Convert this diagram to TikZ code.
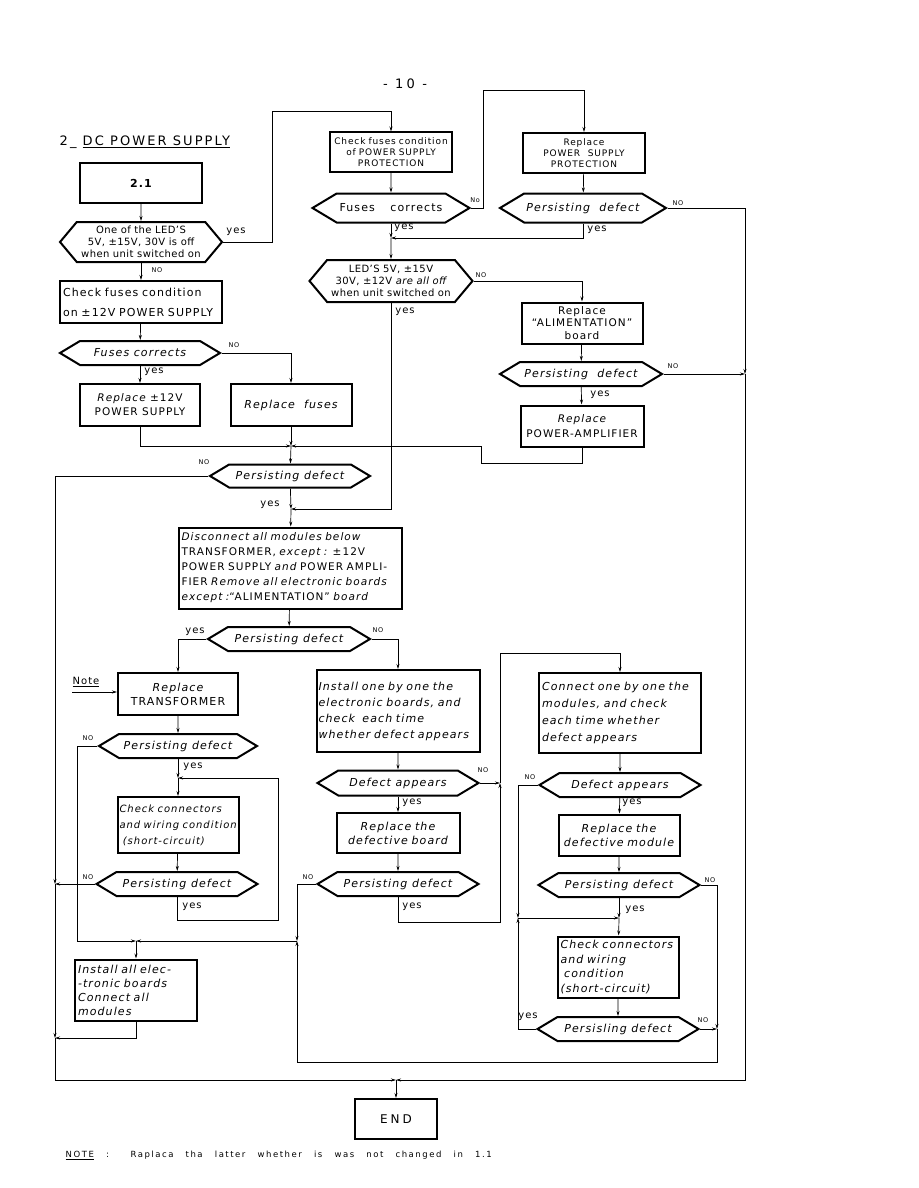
\documentclass[tikz,border=0pt]{standalone}
\usepackage{fontspec}
\setmainfont{DejaVu Sans}[LetterSpace=10]
\usetikzlibrary{shapes.symbols,arrows.meta}

\begin{document}
\begin{tikzpicture}[x=1pt,y=-1pt,>={Stealth[length=5pt,width=3pt]},line width=0.7pt,
  box/.style={draw, line width=2pt, align=center, inner sep=2pt, font=\fontsize{11}{14}\selectfont},
  hexa/.style={draw, line width=2pt, signal, signal to=west and east, signal pointer angle=#1, align=center, inner sep=1pt, font=\fontsize{11}{13}\selectfont},
  hexa/.default=62,
  lbl/.style={inner sep=0pt, font=\fontsize{10}{11}\selectfont},
  nolbl/.style={inner sep=0pt, font=\fontsize{6.5}{7}\selectfont}]
\useasboundingbox (0,0) rectangle (918,1188);

\node[font=\fontsize{13}{14}\selectfont\addfontfeature{LetterSpace=25}] (pagenum) at (405,84) {- 10 -};
\node[anchor=west, font=\fontsize{13}{14}\selectfont\addfontfeature{LetterSpace=16}] (title) at (56,142) {2\_ \underline{DC POWER SUPPLY}};

\node[box, minimum width=122, minimum height=40] (n21) at (141,183) {\bfseries 2.1};
\node[hexa=100, minimum width=162, minimum height=40, inner sep=0pt, font=\fontsize{10}{12}\selectfont\addfontfeature{LetterSpace=4}] (qLeds) at (141,242) {One of the LED'S\\5V, ±15V, 30V is off\\when unit switched on};
\node[box, minimum width=162, minimum height=42, align=left, text width=156pt, font=\fontsize{11}{20}\selectfont] (chkLow) at (141,302) {Check fuses condition\\on ±12V POWER SUPPLY};
\node[hexa, minimum width=160, minimum height=24, font=\fontsize{11}{13}\selectfont\itshape] (qFusesLow) at (140,353) {Fuses corrects};
\node[box, minimum width=120, minimum height=42, font=\fontsize{10.5}{14}\selectfont] (repLow) at (140,405) {{\itshape Replace} ±12V\\POWER SUPPLY};
\node[box, minimum width=121, minimum height=42, font=\fontsize{11}{13}\selectfont\itshape] (repFuses) at (291,405) {Replace \ fuses};
\node[hexa, minimum width=160, minimum height=23] (qPersA) at (290,476) {\itshape Persisting defect};
\node[box, minimum width=223, minimum height=81, align=left, text width=217pt, font=\fontsize{10.5}{15}\selectfont] (disc) at (290,568) {{\itshape Disconnect all modules below}\\TRANSFORMER, {\itshape except :} ±12V\\POWER SUPPLY {\itshape and} POWER AMPLI-\\FIER {\itshape Remove all electronic boards}\\{\itshape except :}``ALIMENTATION'' {\itshape board}};
\node[hexa, minimum width=162, minimum height=24] (qPersB) at (289,639) {\itshape Persisting defect};

\node[box, minimum width=120, minimum height=42] (repTrafo) at (178,694) {{\itshape Replace}\\TRANSFORMER};
\node[hexa, minimum width=158, minimum height=24] (qPersC) at (178,746) {\itshape Persisting defect};
\node[box, minimum width=121, minimum height=56, align=left, text width=117pt, font=\fontsize{10}{16}\selectfont\itshape] (chkWireA) at (178,825) {Check connectors\\\mbox{and wiring condition}\\ \ (short-circuit)};
\node[hexa, minimum width=161, minimum height=24] (qPersD) at (177,884) {\itshape Persisting defect};
\node[box, minimum width=122, minimum height=61, align=left, text width=116pt, font=\fontsize{11}{14}\selectfont\itshape] (instAll) at (136,990) {Install all elec-\\-tronic boards\\Connect all\\modules};
\node[lbl] (noteLbl) at (86,682) {\underline{Note}};
\coordinate (noteA) at (72,692);

\node[box, minimum width=122, minimum height=39, text width=118pt, font=\fontsize{9}{11}\selectfont] (chkProt) at (391,152) {Check fuses condition\\of POWER SUPPLY\\PROTECTION};
\node[hexa, minimum width=157, minimum height=29] (qFusesProt) at (391,208) {Fuses \quad corrects};
\node[box, minimum width=122, minimum height=40, font=\fontsize{9}{11}\selectfont] (repProt) at (584,153) {Replace\\POWER \ SUPPLY\\PROTECTION};
\node[hexa, minimum width=166, minimum height=29] (qPersE) at (583,208) {\itshape Persisting \ defect};
\node[hexa=100, minimum width=163, minimum height=42, inner sep=0pt, font=\fontsize{10}{12}\selectfont\addfontfeature{LetterSpace=4}] (qLedsAll) at (391,281) {LED'S 5V, ±15V\\30V, ±12V {\itshape are all off}\\when unit switched on};
\node[box, minimum width=121, minimum height=41, text width=117pt, font=\fontsize{10.5}{12.5}\selectfont] (repAlim) at (582,323) {Replace\\``ALIMENTATION''\\board};
\node[hexa, minimum width=162, minimum height=24] (qPersF) at (581,374) {\itshape Persisting \ defect};
\node[box, minimum width=123, minimum height=41, text width=119pt, font=\fontsize{10.5}{15}\selectfont] (repAmp) at (582,426) {{\itshape Replace}\\POWER-AMPLIFIER};

\node[box, minimum width=163, minimum height=82, align=left, text width=159pt, font=\fontsize{11}{16}\selectfont\itshape] (instBoards) at (398,711) {Install one by one the\\electronic boards, and\\check \ each time\\whether defect appears};
\node[hexa, minimum width=161, minimum height=25] (qAppB) at (398,783) {\itshape Defect appears};
\node[box, minimum width=123, minimum height=40, text width=119pt, font=\fontsize{11}{14}\selectfont\itshape] (repBoard) at (398,833) {Replace the\\defective board};
\node[hexa, minimum width=161, minimum height=24] (qPersG) at (398,884) {\itshape Persisting defect};

\node[box, minimum width=162, minimum height=80, align=left, text width=156pt, font=\fontsize{11}{17}\selectfont\itshape] (connMod) at (620,713) {Connect one by one the\\modules, and check\\each time whether\\defect appears};
\node[hexa, minimum width=161, minimum height=24] (qAppM) at (620,785) {\itshape Defect appears};
\node[box, minimum width=121, minimum height=41, text width=117pt, font=\fontsize{11}{14}\selectfont\itshape] (repMod) at (619,835) {Replace the\\defective module};
\node[hexa, minimum width=161, minimum height=24] (qPersH) at (619,885) {\itshape Persisting defect};
\node[box, minimum width=121, minimum height=61, align=left, text width=115pt, font=\fontsize{11}{14.5}\selectfont\itshape] (chkWireB) at (618,967) {Check connectors\\ and wiring\\ \ condition\\(short-circuit)};
\node[hexa, minimum width=161, minimum height=24] (qPersI) at (618,1029) {\itshape Persisling defect};

\node[box, minimum width=82, minimum height=40, font=\fontsize{12}{13}\selectfont\addfontfeature{LetterSpace=25}] (endbox) at (396,1119) {END};
\node[anchor=west, font=\fontsize{8.5}{10}\selectfont\addfontfeature{LetterSpace=18}] (noteTxt) at (62,1155) {\makebox[426pt][s]{\underline{NOTE} : Raplaca tha latter whether is was not changed in 1.1}};

\coordinate (jF) at (391,238);
\coordinate (jB) at (291,446);
\coordinate (jC) at (291,509);
\coordinate (jR1) at (745,374);
\coordinate (jEnd) at (396,1080);
\coordinate (jL1) at (55,884);
\coordinate (jL2) at (55,1038);
\coordinate (jW) at (178,778);
\coordinate (jM) at (136,941);
\coordinate (jM2) at (297,941);
\coordinate (jR2) at (500,783);
\coordinate (jR3) at (717,1029);
\coordinate (jR4) at (518,918);
\coordinate (jR5) at (619,918);

\draw[->] (n21) -- (qLeds);
\draw[->] (qLeds.east) -| (272,111) -| (chkProt);
\draw[->] (chkProt) -- (qFusesProt);
\draw[->] (qFusesProt.east) -| (483,90) -| (repProt);
\draw[->] (repProt) -- (qPersE);
\draw[->] (qPersE.east) -| (jR1);
\draw[->] (qPersE.south) |- (jF);
\draw[->] (qFusesProt) -- (jF);
\draw[->] (jF) -- (qLedsAll);
\draw[->] (qLedsAll.east) -| (repAlim);
\draw[->] (repAlim) -- (qPersF);
\draw[->] (qPersF.east) -- (jR1);
\draw[->] (jR1) |- (jEnd);
\draw[->] (qPersF) -- (repAmp);
\draw[->] (repAmp.south) |- (481,463) |- (jB);
\draw[->] (qLedsAll.south) |- (jC);

\draw[->] (qLeds) -- (chkLow);
\draw[->] (chkLow) -- (qFusesLow);
\draw[->] (qFusesLow.east) -| (repFuses);
\draw[->] (qFusesLow) -- (repLow);
\draw[->] (repLow.south) |- (jB);
\draw[->] (repFuses) -- (jB);
\draw[->] (jB) -- (qPersA);
\draw[->] (qPersA.west) -| (jL1);
\draw[->] (qPersA) -- (jC);
\draw[->] (jC) -- (disc);
\draw[->] (disc) -- (qPersB);
\draw[->] (qPersB.west) -| (repTrafo);
\draw[->] (qPersB.east) -| (instBoards);

\draw[->] (noteA) -- (noteA -| repTrafo.west);
\draw[->] (repTrafo) -- (qPersC);
\draw[->] (qPersC.west) -| (77,941) -- (jM);
\draw[->] (qPersC) -- (jW);
\draw[->] (jW) -- (chkWireA);
\draw[->] (chkWireA) -- (qPersD);
\draw[->] (qPersD.south) |- (278,920) |- (jW);
\draw[->] (qPersD.west) -- (jL1);
\draw[->] (jL1) -- (jL2);
\draw[->] (instAll.south) |- (jL2);
\draw[->] (jL2) |- (jEnd);
\draw[->] (jM) -- (instAll);
\draw[->] (jM2) -- (jM);

\draw[->] (instBoards) -- (qAppB);
\draw[->] (qAppB.east) -- (jR2);
\draw[->] (qAppB) -- (repBoard);
\draw[->] (repBoard) -- (qPersG);
\draw[->] (qPersG.west) -| (jM2);
\draw[->] (qPersG.south) |- (500,922) -- (jR2);
\draw[->] (jR2) -- (500,653) -| (connMod);

\draw[->] (connMod) -- (qAppM);
\draw[->] (qAppM.west) -| (jR4);
\draw[->] (qAppM) -- (repMod);
\draw[->] (repMod) -- (qPersH);
\draw[->] (qPersH) -- (jR5);
\draw[->] (jR4) -- (jR5);
\draw[->] (jR5) -- (chkWireB);
\draw[->] (chkWireB) -- (qPersI);
\draw[->] (qPersI.west) -| (jR4);
\draw[->] (qPersH.east) -| (jR3);
\draw[->] (qPersI.east) -- (jR3);
\draw[->] (jR3) |- (297,1062) -- (jM2);
\draw[->] (jEnd) -- (endbox);

\node[lbl] (yesA) at (236,232) {yes};
\node[nolbl] (noA) at (157,270) {NO};
\node[nolbl] (noB) at (475,200) {No};
\node[lbl] (yesB) at (404,228) {yes};
\node[nolbl] (noC) at (678,203) {NO};
\node[lbl] (yesC) at (597,230) {yes};
\node[nolbl] (noD) at (481,275) {NO};
\node[lbl] (yesD) at (405,312) {yes};
\node[nolbl] (noE) at (234,345) {NO};
\node[lbl] (yesE) at (154,372) {yes};
\node[nolbl] (noF) at (673,366) {NO};
\node[lbl] (yesF) at (600,395) {yes};
\node[nolbl] (noG) at (204,462) {NO};
\node[lbl] (yesG) at (270,505) {yes};
\node[lbl] (yesH) at (195,632) {yes};
\node[nolbl] (noH) at (378,630) {NO};
\node[nolbl] (noI) at (88,738) {NO};
\node[lbl] (yesI) at (193,767) {yes};
\node[nolbl] (noJ) at (88,877) {NO};
\node[lbl] (yesJ) at (192,907) {yes};
\node[nolbl] (noK) at (483,770) {NO};
\node[lbl] (yesK) at (412,803) {yes};
\node[nolbl] (noL) at (308,877) {NO};
\node[lbl] (yesL) at (412,907) {yes};
\node[nolbl] (noM) at (530,777) {NO};
\node[lbl] (yesM) at (632,803) {yes};
\node[nolbl] (noN) at (710,880) {NO};
\node[lbl] (yesN) at (635,910) {yes};
\node[lbl] (yesO) at (528,1017) {yes};
\node[nolbl] (noO) at (703,1020) {NO};
\end{tikzpicture}
\end{document}
